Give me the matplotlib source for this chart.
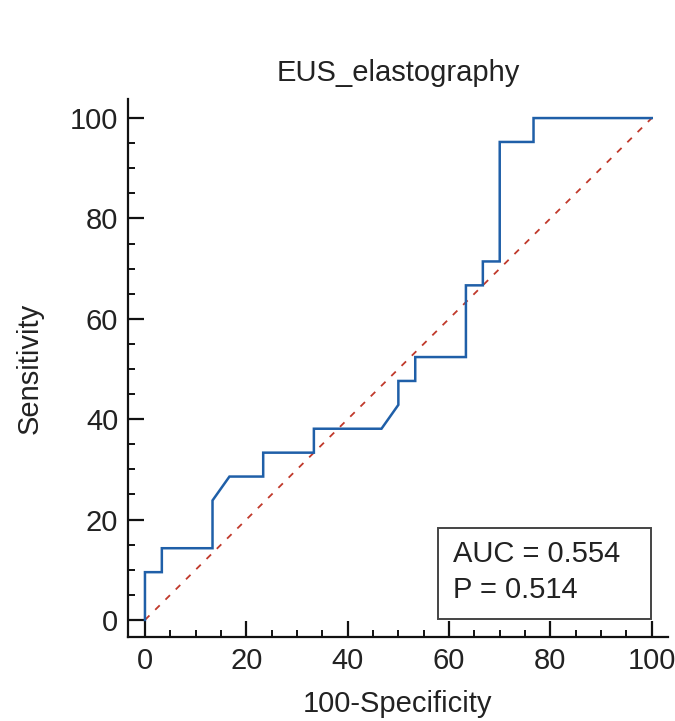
import numpy as np
import matplotlib.pyplot as plt
from matplotlib.patches import Rectangle
from matplotlib.ticker import MultipleLocator

plt.rcParams["font.family"] = ["Liberation Sans", "DejaVu Sans"]

# ROC curve points (100-Specificity, Sensitivity)
fpr = [0, 0, 3.33, 3.33, 13.33, 13.33, 16.67, 23.33, 23.33, 33.33, 33.33,
       46.67, 50, 50, 53.33, 53.33, 63.33, 63.33, 66.67, 66.67, 70, 70,
       76.67, 76.67, 100]
tpr = [0, 9.52, 9.52, 14.29, 14.29, 23.81, 28.57, 28.57, 33.33, 33.33, 38.10,
       38.10, 42.86, 47.62, 47.62, 52.38, 52.38, 66.67, 66.67, 71.43, 71.43,
       95.24, 95.24, 100, 100]
auc = 0.554
p_value = 0.514
title = "EUS_elastography"

fs = 21
txt = "#222222"

fig = plt.figure(figsize=(6.75, 7.21), dpi=100)
ax = fig.add_axes([0.1896, 0.1165, 0.80, 0.7462])

ax.plot([0, 100], [0, 100], color="#c0392b", lw=1.3, dashes=(3.5, 4.5))
ax.plot(fpr, tpr, color="#1f5fa8", lw=1.8, solid_joinstyle="miter")

ax.set_xlim(-3.35, 103.2)
ax.set_ylim(-3.4, 103.8)

for s in ["top", "right"]:
    ax.spines[s].set_visible(False)
for s in ["left", "bottom"]:
    ax.spines[s].set_linewidth(1.6)
    ax.spines[s].set_color("#111111")

ax.set_xticks([0, 20, 40, 60, 80, 100])
ax.set_yticks([0, 20, 40, 60, 80, 100])
ax.xaxis.set_minor_locator(MultipleLocator(5))
ax.yaxis.set_minor_locator(MultipleLocator(5))
ax.tick_params(which="major", direction="in", length=11.5, width=1.6,
               color="#111111", labelsize=fs, labelcolor=txt)
ax.tick_params(which="minor", direction="in", length=5, width=1.4,
               color="#111111")
ax.tick_params(axis="y", which="major", pad=7)
ax.tick_params(axis="x", which="major", pad=7)

ax.set_xlabel("100-Specificity", fontsize=fs, color=txt)
ax.set_ylabel("Sensitivity", fontsize=fs, color=txt)
ax.xaxis.set_label_coords(0.5, -0.099)
ax.yaxis.set_label_coords(-0.157, 0.5)
ax.set_title(title, fontsize=fs, color=txt, pad=13)

# AUC box
ax.add_patch(Rectangle((57.85, 0.1), 41.95, 18.2, fc="white", ec="#444444",
                       lw=1.4, zorder=3))
ax.text(60.8, 11.6, f"AUC = {auc:.3f}", fontsize=fs, color=txt,
        va="baseline", ha="left", zorder=4)
ax.text(60.8, 4.3, f"P = {p_value:.3f}", fontsize=fs, color=txt,
        va="baseline", ha="left", zorder=4)

fig.savefig("out.png", dpi=100)
